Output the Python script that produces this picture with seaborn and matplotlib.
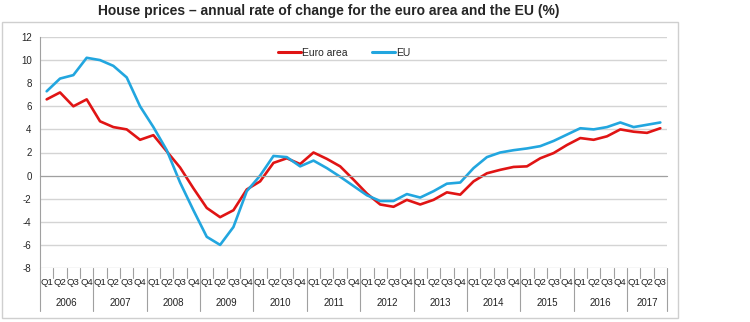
import matplotlib
matplotlib.use("Agg")
import matplotlib.pyplot as plt
import matplotlib.transforms as mtransforms
from matplotlib.patches import Rectangle
import seaborn as sns
import pandas as pd
import numpy as np

years = ["2006", "2007", "2008", "2009", "2010", "2011", "2012",
         "2013", "2014", "2015", "2016", "2017"]
quarters = ["Q1", "Q2", "Q3", "Q4"]

euro_area = [6.6, 7.2, 6.0, 6.6, 4.7, 4.2, 4.0, 3.1,
             3.5, 2.1, 0.7, -1.1, -2.8, -3.6, -3.0, -1.2,
             -0.5, 1.1, 1.5, 1.0, 2.0, 1.45, 0.8, -0.35,
             -1.55, -2.5, -2.7, -2.1, -2.5, -2.1, -1.45, -1.65,
             -0.5, 0.2, 0.5, 0.75, 0.8, 1.5, 1.95, 2.65,
             3.25, 3.1, 3.4, 4.0, 3.8, 3.7, 4.1]
eu = [7.3, 8.4, 8.7, 10.2, 10.0, 9.5, 8.5, 6.0,
      4.2, 2.2, -0.6, -3.0, -5.3, -6.0, -4.45, -1.35,
      0.0, 1.7, 1.6, 0.8, 1.3, 0.65, -0.1, -0.9,
      -1.7, -2.2, -2.2, -1.6, -1.9, -1.35, -0.7, -0.6,
      0.65, 1.6, 2.0, 2.2, 2.35, 2.55, 3.0, 3.55,
      4.1, 4.0, 4.2, 4.6, 4.2, 4.4, 4.6]
series_names = ["Euro area", "EU"]
colors = ["#E01414", "#22A6DF"]

n = len(euro_area)
qlabels = [quarters[i % 4] for i in range(n)]

df = pd.DataFrame({
    "idx": list(range(n)) * 2,
    "value": euro_area + eu,
    "series": [series_names[0]] * n + [series_names[1]] * n,
})

sns.set_style("white")
plt.rcParams["font.family"] = ["Liberation Sans", "DejaVu Sans"]
plt.rcParams["axes.unicode_minus"] = False

fig = plt.figure(figsize=(7.5, 3.22), dpi=100)
ax = fig.add_axes([40 / 750, 1 - 268 / 322, 627 / 750, 231 / 322])

sns.lineplot(data=df, x="idx", y="value", hue="series", palette=colors,
             linewidth=1.9, ax=ax, legend=True)

ax.set_xlim(-0.5, n - 0.5)
ax.set_ylim(-8, 12)
ax.set_yticks(np.arange(-8, 13, 2))
ax.yaxis.grid(True, color="#D4D4D4", linewidth=1.0)
ax.set_axisbelow(True)
ax.set_xlabel("")
ax.set_ylabel("")
for s in ["top", "right"]:
    ax.spines[s].set_visible(False)
ax.spines["left"].set_color("#A0A0A0")
ax.spines["left"].set_linewidth(0.8)
ax.spines["bottom"].set_position(("data", 0))
ax.spines["bottom"].set_color("#A0A0A0")
ax.spines["bottom"].set_linewidth(0.8)
ax.set_xticks(np.arange(-0.5, n, 1.0))
ax.set_xticklabels([])
ax.tick_params(axis="x", direction="out", length=3, color="#A0A0A0", width=0.8)
ax.tick_params(axis="y", direction="out", length=3, color="#A0A0A0", width=0.8,
               labelsize=7, pad=3)

# category labels below plot
trans = mtransforms.blended_transform_factory(ax.transData, ax.transAxes)
for i, q in enumerate(qlabels):
    ax.text(i, -0.062, q, transform=trans, ha="center", va="center",
            fontsize=6.8, color="#222222")
for k, y in enumerate(years):
    start = k * 4
    end = min(start + 4, n)
    ax.text((start + end - 1) / 2, -0.152, y, transform=trans, ha="center",
            va="center", fontsize=7, color="#222222")
for b in range(n + 1):
    xb = b - 0.5
    if b % 4 == 0 or b == n:
        ax.plot([xb, xb], [0, -0.185], transform=trans, color="#A0A0A0",
                lw=0.8, clip_on=False)
    else:
        ax.plot([xb, xb], [0, -0.045], transform=trans, color="#A0A0A0",
                lw=0.8, clip_on=False)

leg = ax.legend(loc="upper center", bbox_to_anchor=(0.485, 0.995), ncol=2,
                frameon=False, fontsize=7.5, handlelength=2.2,
                handletextpad=0.05, columnspacing=2.4)
for line in leg.get_lines():
    line.set_linewidth(2.2)

fig.add_artist(Rectangle((2 / 750, 1 - 318 / 322), 676 / 750, 296 / 322,
                         transform=fig.transFigure, fill=False,
                         edgecolor="#CFCFCF", linewidth=1.0))

fig.text(329 / 750, 1 - 11 / 322,
         "House prices – annual rate of change for the euro area and the EU (%)",
         ha="center", va="center", fontsize=10, fontweight="bold",
         family=["Liberation Sans Narrow", "Liberation Sans", "DejaVu Sans"])

fig.savefig("out.png", dpi=100)
